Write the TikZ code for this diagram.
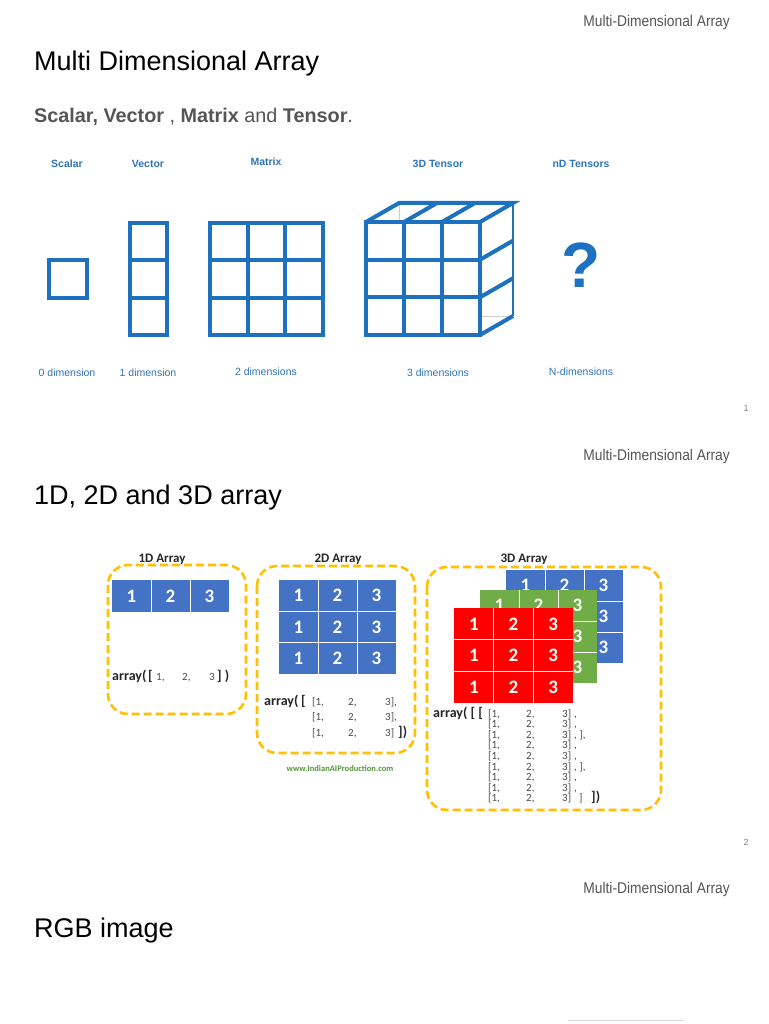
\documentclass[tikz,border=0pt]{standalone}
\usepackage{fontspec}
\setmainfont{Liberation Sans}
\newfontfamily\calfont{Carlito}
\newcommand\myfs[1]{\fontsize{#1}{#1}\selectfont}
\definecolor{tblue}{RGB}{30,112,192}
\definecolor{lblue}{RGB}{46,117,182}
\definecolor{hgray}{RGB}{85,85,85}
\definecolor{abl}{RGB}{68,114,196}
\definecolor{agr}{RGB}{112,173,71}
\definecolor{ared}{RGB}{255,0,0}
\definecolor{dashy}{RGB}{255,192,0}
\definecolor{wgreen}{RGB}{84,150,60}
\tikzset{
 tb/.style={draw=tblue, line width=4pt, line join=miter},
 hdr/.style={anchor=base east, text=hgray, inner sep=0, font=\myfs{15.5}},
 ttl/.style={anchor=base west, inner sep=0, text=black, font=\myfs{27}},
 sub/.style={anchor=base west, inner sep=0, text=hgray, font=\myfs{19.8}},
 lbl/.style={anchor=base, inner sep=0, text=lblue, font=\bfseries\myfs{10.5}},
 dimlbl/.style={anchor=base, inner sep=0, text=lblue, font=\myfs{10.5}},
 pgno/.style={anchor=base, inner sep=0, text=gray, font=\myfs{9}},
 numtxt/.style={text=white, font=\calfont\bfseries\myfs{19}, inner sep=0},
 dbox/.style={draw=dashy, line width=2.6pt, dash pattern=on 8pt off 4pt, rounded corners=20pt},
 boxlbl/.style={anchor=base, inner sep=0, text=black!85, font=\calfont\bfseries\myfs{13}},
 arrb/.style={anchor=base west, inner sep=0, font=\calfont\bfseries\myfs{14}, text=black!85},
 arrn/.style={anchor=base west, inner sep=0, font=\calfont\myfs{11}, text=black!70},
}
% #1 name, #2 color, #3 x0, #4 y0, #5 w, #6 h, #7 rows
\newcommand\numgrid[7]{%
 \fill[#2] (#3,#4) rectangle ++(#5,#6);
 \foreach \c in {1,2}{\draw[white,line width=0.8pt] ({#3+\c*#5/3},#4) -- ++(0,#6);}
 \ifnum#7>1
  \foreach \r in {1,2}{\draw[white,line width=0.8pt] (#3,{#4+\r*#6/3}) -- ++(#5,0);}
 \fi
 \foreach \r in {1,...,#7}{\foreach \c in {1,2,3}{
   \node[numtxt] (#1-\r-\c) at ({#3+(\c-0.5)*#5/3},{#4+(\r-0.5)*#6/#7}) {\c};}}
}
\begin{document}
\begin{tikzpicture}[x=1pt,y=-1pt]
\useasboundingbox (0,0) rectangle (768,1024);
\fill[white] (0,0) rectangle (768,1024);

% ---------- slide 1 ----------
\node[hdr] (h1) at (730,27) {\scalebox{0.89}[1]{Multi-Dimensional Array}};
\node[ttl] (t1) at (34,71) {Multi Dimensional Array};
\node[sub] (s1) at (34,123) {\textbf{Scalar,} \textbf{Vector} , \textbf{Matrix} and \textbf{Tensor}.};

\node[lbl] (lsc) at (67,168) {Scalar};
\node[lbl] (lve) at (148,168) {Vector};
\node[lbl] (lma) at (266,166) {Matrix};
\node[lbl] (lte) at (438,168) {3D Tensor};
\node[lbl] (lnd) at (581,168) {nD Tensors};

\node[dimlbl] (d0) at (67,376) {0 dimension};
\node[dimlbl] (d1) at (148,376) {1 dimension};
\node[dimlbl] (d2) at (266,375) {2 dimensions};
\node[dimlbl] (d3) at (438,376) {3 dimensions};
\node[dimlbl] (dn) at (581,375) {N-dimensions};

% scalar
\draw[tb] (49,260) rectangle (87,298);
% vector
\draw[tb] (130,223) rectangle (167,335);
\draw[tb] (130,260.3) -- (167,260.3) (130,297.7) -- (167,297.7);
% matrix
\draw[tb] (210,223) rectangle (323,335);
\draw[tb] (247.7,223) -- (247.7,335) (285.3,223) -- (285.3,335);
\draw[tb] (210,260.3) -- (323,260.3) (210,297.7) -- (323,297.7);
% 3D tensor
\draw[black!20, line width=1pt] (399,203) -- (399,222) (480,316) -- (513,316);
\draw[tblue, line width=2pt] (513,203) -- (513,316);
\draw[tb] (366,222) rectangle (480,335);
\draw[tb] (404,222) -- (404,335) (442,222) -- (442,335);
\draw[tb] (366,259.7) -- (480,259.7) (366,297.3) -- (480,297.3);
\draw[tb] (366,222) -- (399,203) -- (513,203) -- (480,222);
\draw[tb] (404,222) -- (437,203) (442,222) -- (475,203);
\draw[tb] (480,335) -- (513,316);
\draw[tb] (480,259.7) -- (513,240.7) (480,297.3) -- (513,278.3);
% question mark
\node[anchor=base, inner sep=0, text=tblue, font=\bfseries\myfs{64}] (qm) at (581,287) {?};

\node[pgno] (p1) at (746,411) {1};

% ---------- slide 2 ----------
\node[hdr] (h2) at (730,460) {\scalebox{0.89}[1]{Multi-Dimensional Array}};
\node[ttl] (t2) at (34,504) {1D, 2D and 3D array};

% 1D
\draw[dbox] (108,565) rectangle (246,714);
\node[boxlbl] (b1) at (162,562) {1D Array};
\numgrid{g1}{abl}{112}{580}{117}{32}{1}
\node[arrb] (a1) at (112,680) {array(};
\node[arrb] (a1b) at (148,680) {[};
\node[arrn] (a1n) at (156,680) {\makebox[26pt][l]{1,}\makebox[27pt][l]{2,}3};
\node[arrb] (a1e) at (217,680) {] )};

% 2D
\draw[dbox] (257,566) rectangle (415,753);
\node[boxlbl] (b2) at (338,562) {2D Array};
\numgrid{g2}{abl}{279}{580}{117}{94}{3}
\node[arrb] (a2) at (264,705) {array(};
\node[arrb] (a2b) at (301,705) {[};
\node[arrn] (a2l1) at (312,705) {\makebox[36pt][l]{[1,}\makebox[37pt][l]{2,}3],};
\node[arrn] (a2l2) at (312,720) {\makebox[36pt][l]{[1,}\makebox[37pt][l]{2,}3],};
\node[arrn] (a2l3) at (312,736) {\makebox[36pt][l]{[1,}\makebox[37pt][l]{2,}3]};
\node[arrb] (a2e) at (398,736) {])};
\node[anchor=base, inner sep=0, text=wgreen, font=\calfont\bfseries\myfs{8.5}] (web) at (340,771) {www.IndianAIProduction.com};

% 3D
\draw[dbox] (427,567) rectangle (661,810);
\node[boxlbl] (b3) at (524,562) {3D Array};
\numgrid{g3b}{abl}{506}{570}{117}{93}{3}
\numgrid{g3g}{agr}{480}{590}{117}{93}{3}
\numgrid{g3r}{ared}{454}{608}{119}{95}{3}
\node[arrb] (a3) at (433,717) {array( [ [};
\foreach \i/\s in {1/{,},2/{,},3/{, ],},4/{,},5/{,},6/{, ],},7/{,},8/{,}}{
  \node[arrn] (l3-\i) at (488,{706.4+\i*10.6}) {\makebox[38pt][l]{[1,}\makebox[36pt][l]{2,}3]\hspace{3pt}\s};
}
\node[arrn] (l3-9) at (488,801.8) {\makebox[38pt][l]{[1,}\makebox[36pt][l]{2,}3]\hspace{8pt}]};
\node[arrb] (a3e) at (591,801.8) {])};

\node[pgno] (p2) at (746,845) {2};

% ---------- slide 3 ----------
\node[hdr] (h3) at (730,893) {\scalebox{0.89}[1]{Multi-Dimensional Array}};
\node[ttl] (t3) at (34,937) {RGB image};
\draw[black!15, line width=1pt] (568,1020) -- (684,1020);
\end{tikzpicture}
\end{document}
